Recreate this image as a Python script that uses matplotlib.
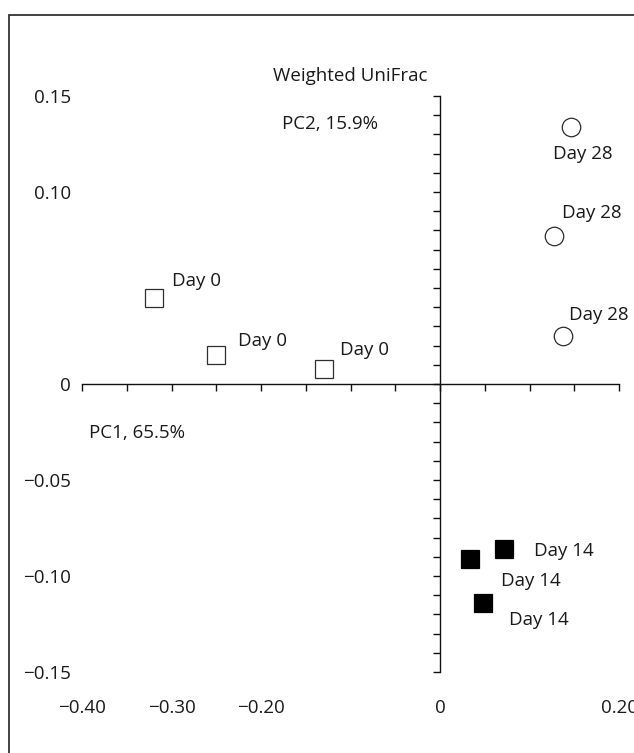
import matplotlib
matplotlib.use("Agg")
import matplotlib.pyplot as plt
from matplotlib.patches import Rectangle
from matplotlib.ticker import MultipleLocator

plt.rcParams['font.family'] = ['Open Sans', 'DejaVu Sans']

# PCoA coordinates (PC1, PC2) per sampling day
day0_pc1 = [-0.32, -0.25, -0.13]
day0_pc2 = [0.045, 0.015, 0.008]
day14_pc1 = [0.033, 0.072, 0.048]
day14_pc2 = [-0.091, -0.086, -0.114]
day28_pc1 = [0.146, 0.127, 0.137]
day28_pc2 = [0.134, 0.077, 0.025]

day0_labels = ["Day 0", "Day 0", "Day 0"]
day14_labels = ["Day 14", "Day 14", "Day 14"]
day28_labels = ["Day 28", "Day 28", "Day 28"]

x_ticks = [-0.40, -0.30, -0.20, -0.10, 0.0, 0.10, 0.20]
x_tick_labels = ["\u22120.40", "\u22120.30", "\u22120.20", "\u22120.10", "0", "0.10", "0.20"]
y_ticks = [-0.15, -0.10, -0.05, 0.0, 0.05, 0.10, 0.15]
y_tick_labels = ["\u22120.15", "\u22120.10", "\u22120.05", "0", "0.05", "0.10", "0.15"]

title = "Weighted UniFrac"
pc1_label = "PC1, 65.5%"
pc2_label = "PC2, 15.9%"

# label placement (offset of text start / baseline from marker centre, in points)
day0_offsets = [(13, 8), (15.5, 6.5), (12, 10)]
day14_offsets = [(23, -20), (21, -5), (19, -16)]
day28_offsets = [(-13, -23), (6, 13), (4.7, 11.5)]

FS = 13.5
TXT = '#1a1a1a'
EDGE = '#2e2e2e'

W, H = 634, 753
fig = plt.figure(figsize=(W / 100, H / 100), dpi=100)
fig.patch.set_facecolor('white')

pos = [82 / W, (H - 672) / H, (619 - 82) / W, (672 - 96) / H]

# Base axes: carries the tick labels along the outer edges
ax = fig.add_axes(pos)
ax.set_xlim(-0.40, 0.20)
ax.set_ylim(-0.15, 0.15)
for s in ax.spines.values():
    s.set_visible(False)
ax.set_xticks(x_ticks)
ax.set_xticklabels(x_tick_labels)
ax.set_yticks(y_ticks)
ax.set_yticklabels(y_tick_labels)
ax.tick_params(axis='x', length=0, pad=19.5, labelsize=FS, labelcolor=TXT)
ax.tick_params(axis='y', length=0, pad=8, labelsize=FS, labelcolor=TXT)
ax.patch.set_visible(False)

# Overlay axes: crossing axis lines through the origin with tick marks
ax2 = fig.add_axes(pos, sharex=ax, sharey=ax)
ax2.patch.set_visible(False)
ax2.spines['top'].set_visible(False)
ax2.spines['right'].set_visible(False)
ax2.spines['left'].set_position(('data', 0))
ax2.spines['bottom'].set_position(('data', 0))
for k in ('left', 'bottom'):
    ax2.spines[k].set_linewidth(1.0)
    ax2.spines[k].set_color('#111111')
ax2.xaxis.set_major_locator(MultipleLocator(0.05))
ax2.yaxis.set_major_locator(MultipleLocator(0.01))
ax2.tick_params(axis='both', direction='out', length=5, width=1.0, color='#111111',
                labelbottom=False, labelleft=False)

mk = dict(ls='none', markersize=13.3, markeredgewidth=0.9, markeredgecolor=EDGE, zorder=3)
ax2.plot(day0_pc1, day0_pc2, marker='s', markerfacecolor='white', **mk)
ax2.plot(day14_pc1, day14_pc2, marker='s', markerfacecolor='black',
         **{**mk, 'markeredgecolor': 'black'})
ax2.plot(day28_pc1, day28_pc2, marker='o', markerfacecolor='white', **mk)

for xs, ys, labs, offs in ((day0_pc1, day0_pc2, day0_labels, day0_offsets),
                           (day14_pc1, day14_pc2, day14_labels, day14_offsets),
                           (day28_pc1, day28_pc2, day28_labels, day28_offsets)):
    for x, y, t, o in zip(xs, ys, labs, offs):
        ax2.annotate(t, (x, y), xytext=o, textcoords='offset points',
                     ha='left', va='baseline', fontsize=FS, color=TXT)

ax2.set_title(title, fontsize=FS, color=TXT, pad=10.8)
ax2.text(-0.177, 0.133, pc2_label, ha='left', va='baseline', fontsize=FS, color=TXT)
ax2.text(-0.3926, -0.028, pc1_label, ha='left', va='baseline', fontsize=FS, color=TXT)

# Outer frame
fig.patches.append(Rectangle((9 / W, -0.1), 2.0, (H - 15) / H + 0.1,
                             transform=fig.transFigure, fill=False,
                             linewidth=1.3, edgecolor='#333333'))

fig.savefig('out.png', dpi=100)
